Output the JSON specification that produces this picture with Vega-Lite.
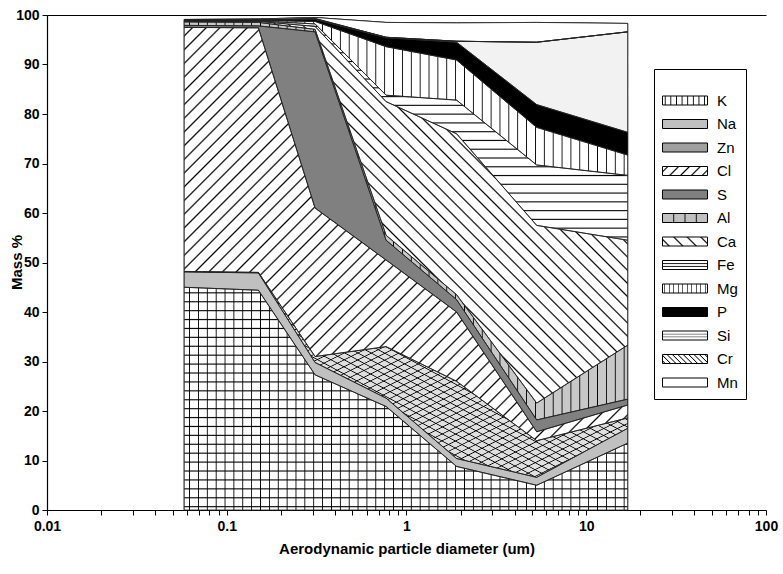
{
"$schema":"https://vega.github.io/schema/vega-lite/v6.json",
"width":719,"height":495,
"autosize":{"type":"none"},
"padding":{"left":47,"top":15,"right":17,"bottom":64},
"background":"#ffffff",
"config":{"view":{"stroke":null},"font":"Liberation Sans"},
"params":[
{"name":"lK","value":{"gradient":"linear","x1":0,"y1":0,"x2":1,"y2":0,"stops":[
 {"offset":0.04,"color":"#fff"},{"offset":0.06,"color":"#000"},{"offset":0.08,"color":"#fff"},
 {"offset":0.165,"color":"#fff"},{"offset":0.185,"color":"#000"},{"offset":0.205,"color":"#fff"},
 {"offset":0.29,"color":"#fff"},{"offset":0.31,"color":"#000"},{"offset":0.33,"color":"#fff"},
 {"offset":0.415,"color":"#fff"},{"offset":0.435,"color":"#000"},{"offset":0.455,"color":"#fff"},
 {"offset":0.54,"color":"#fff"},{"offset":0.56,"color":"#000"},{"offset":0.58,"color":"#fff"},
 {"offset":0.665,"color":"#fff"},{"offset":0.685,"color":"#000"},{"offset":0.705,"color":"#fff"},
 {"offset":0.79,"color":"#fff"},{"offset":0.81,"color":"#000"},{"offset":0.83,"color":"#fff"},
 {"offset":0.915,"color":"#fff"},{"offset":0.935,"color":"#000"},{"offset":0.955,"color":"#fff"}]}},
{"name":"lCl","value":{"gradient":"linear","x1":0,"y1":0,"x2":1.154,"y2":0.231,"stops":[
 {"offset":0.07,"color":"#fff"},{"offset":0.1,"color":"#000"},{"offset":0.13,"color":"#fff"},
 {"offset":0.27,"color":"#fff"},{"offset":0.3,"color":"#000"},{"offset":0.33,"color":"#fff"},
 {"offset":0.47,"color":"#fff"},{"offset":0.5,"color":"#000"},{"offset":0.53,"color":"#fff"},
 {"offset":0.67,"color":"#fff"},{"offset":0.7,"color":"#000"},{"offset":0.73,"color":"#fff"},
 {"offset":0.87,"color":"#fff"},{"offset":0.9,"color":"#000"},{"offset":0.93,"color":"#fff"}]}},
{"name":"lAl","value":{"gradient":"linear","x1":0,"y1":0,"x2":1,"y2":0,"stops":[
 {"offset":0.23,"color":"#c0c0c0"},{"offset":0.25,"color":"#000"},{"offset":0.27,"color":"#c0c0c0"},
 {"offset":0.48,"color":"#c0c0c0"},{"offset":0.5,"color":"#000"},{"offset":0.52,"color":"#c0c0c0"},
 {"offset":0.73,"color":"#c0c0c0"},{"offset":0.75,"color":"#000"},{"offset":0.77,"color":"#c0c0c0"}]}},
{"name":"lCa","value":{"gradient":"linear","x1":0,"y1":1,"x2":1.154,"y2":0.769,"stops":[
 {"offset":0.095,"color":"#fff"},{"offset":0.125,"color":"#000"},{"offset":0.155,"color":"#fff"},
 {"offset":0.345,"color":"#fff"},{"offset":0.375,"color":"#000"},{"offset":0.405,"color":"#fff"},
 {"offset":0.595,"color":"#fff"},{"offset":0.625,"color":"#000"},{"offset":0.655,"color":"#fff"},
 {"offset":0.845,"color":"#fff"},{"offset":0.875,"color":"#000"},{"offset":0.905,"color":"#fff"}]}},
{"name":"lFe","value":{"gradient":"linear","x1":0,"y1":0,"x2":0,"y2":1,"stops":[
 {"offset":0.25,"color":"#fff"},{"offset":0.35,"color":"#000"},{"offset":0.45,"color":"#fff"},
 {"offset":0.55,"color":"#fff"},{"offset":0.65,"color":"#000"},{"offset":0.75,"color":"#fff"}]}},
{"name":"lMg","value":{"gradient":"linear","x1":0,"y1":0,"x2":1,"y2":0,"stops":[
 {"offset":0.035,"color":"#fff"},{"offset":0.05,"color":"#000"},{"offset":0.065,"color":"#fff"},
 {"offset":0.135,"color":"#fff"},{"offset":0.15,"color":"#000"},{"offset":0.165,"color":"#fff"},
 {"offset":0.235,"color":"#fff"},{"offset":0.25,"color":"#000"},{"offset":0.265,"color":"#fff"},
 {"offset":0.335,"color":"#fff"},{"offset":0.35,"color":"#000"},{"offset":0.365,"color":"#fff"},
 {"offset":0.435,"color":"#fff"},{"offset":0.45,"color":"#000"},{"offset":0.465,"color":"#fff"},
 {"offset":0.535,"color":"#fff"},{"offset":0.55,"color":"#000"},{"offset":0.565,"color":"#fff"},
 {"offset":0.635,"color":"#fff"},{"offset":0.65,"color":"#000"},{"offset":0.665,"color":"#fff"},
 {"offset":0.735,"color":"#fff"},{"offset":0.75,"color":"#000"},{"offset":0.765,"color":"#fff"},
 {"offset":0.835,"color":"#fff"},{"offset":0.85,"color":"#000"},{"offset":0.865,"color":"#fff"},
 {"offset":0.935,"color":"#fff"},{"offset":0.95,"color":"#000"},{"offset":0.965,"color":"#fff"}]}},
{"name":"lSi","value":{"gradient":"linear","x1":0,"y1":0,"x2":0,"y2":1,"stops":[
 {"offset":0.25,"color":"#fff"},{"offset":0.35,"color":"#777"},{"offset":0.45,"color":"#fff"},
 {"offset":0.55,"color":"#fff"},{"offset":0.65,"color":"#777"},{"offset":0.75,"color":"#fff"}]}},
{"name":"lCr","value":{"gradient":"linear","x1":0,"y1":1,"x2":1.154,"y2":0.769,"stops":[
 {"offset":0.03,"color":"#fff"},{"offset":0.05,"color":"#000"},{"offset":0.07,"color":"#fff"},
 {"offset":0.13,"color":"#fff"},{"offset":0.15,"color":"#000"},{"offset":0.17,"color":"#fff"},
 {"offset":0.23,"color":"#fff"},{"offset":0.25,"color":"#000"},{"offset":0.27,"color":"#fff"},
 {"offset":0.33,"color":"#fff"},{"offset":0.35,"color":"#000"},{"offset":0.37,"color":"#fff"},
 {"offset":0.43,"color":"#fff"},{"offset":0.45,"color":"#000"},{"offset":0.47,"color":"#fff"},
 {"offset":0.53,"color":"#fff"},{"offset":0.55,"color":"#000"},{"offset":0.57,"color":"#fff"},
 {"offset":0.63,"color":"#fff"},{"offset":0.65,"color":"#000"},{"offset":0.67,"color":"#fff"},
 {"offset":0.73,"color":"#fff"},{"offset":0.75,"color":"#000"},{"offset":0.77,"color":"#fff"},
 {"offset":0.83,"color":"#fff"},{"offset":0.85,"color":"#000"},{"offset":0.87,"color":"#fff"},
 {"offset":0.93,"color":"#fff"},{"offset":0.95,"color":"#000"},{"offset":0.97,"color":"#fff"}]}},
{"name":"sd","value":[
{"offset":0.008,"color":"transparent"},{"offset":0.01,"color":"#000"},{"offset":0.012,"color":"transparent"},
{"offset":0.024,"color":"transparent"},{"offset":0.026,"color":"#000"},{"offset":0.028,"color":"transparent"},
{"offset":0.04,"color":"transparent"},{"offset":0.042,"color":"#000"},{"offset":0.044,"color":"transparent"},
{"offset":0.056,"color":"transparent"},{"offset":0.058,"color":"#000"},{"offset":0.06,"color":"transparent"},
{"offset":0.072,"color":"transparent"},{"offset":0.074,"color":"#000"},{"offset":0.076,"color":"transparent"},
{"offset":0.088,"color":"transparent"},{"offset":0.09,"color":"#000"},{"offset":0.092,"color":"transparent"},
{"offset":0.104,"color":"transparent"},{"offset":0.106,"color":"#000"},{"offset":0.108,"color":"transparent"},
{"offset":0.12,"color":"transparent"},{"offset":0.122,"color":"#000"},{"offset":0.124,"color":"transparent"},
{"offset":0.136,"color":"transparent"},{"offset":0.138,"color":"#000"},{"offset":0.14,"color":"transparent"},
{"offset":0.152,"color":"transparent"},{"offset":0.154,"color":"#000"},{"offset":0.156,"color":"transparent"},
{"offset":0.168,"color":"transparent"},{"offset":0.17,"color":"#000"},{"offset":0.172,"color":"transparent"},
{"offset":0.184,"color":"transparent"},{"offset":0.186,"color":"#000"},{"offset":0.188,"color":"transparent"},
{"offset":0.2,"color":"transparent"},{"offset":0.202,"color":"#000"},{"offset":0.204,"color":"transparent"},
{"offset":0.216,"color":"transparent"},{"offset":0.218,"color":"#000"},{"offset":0.22,"color":"transparent"},
{"offset":0.232,"color":"transparent"},{"offset":0.234,"color":"#000"},{"offset":0.236,"color":"transparent"},
{"offset":0.248,"color":"transparent"},{"offset":0.25,"color":"#000"},{"offset":0.252,"color":"transparent"},
{"offset":0.264,"color":"transparent"},{"offset":0.266,"color":"#000"},{"offset":0.268,"color":"transparent"},
{"offset":0.28,"color":"transparent"},{"offset":0.282,"color":"#000"},{"offset":0.284,"color":"transparent"},
{"offset":0.296,"color":"transparent"},{"offset":0.298,"color":"#000"},{"offset":0.3,"color":"transparent"},
{"offset":0.312,"color":"transparent"},{"offset":0.314,"color":"#000"},{"offset":0.316,"color":"transparent"},
{"offset":0.328,"color":"transparent"},{"offset":0.33,"color":"#000"},{"offset":0.332,"color":"transparent"},
{"offset":0.344,"color":"transparent"},{"offset":0.346,"color":"#000"},{"offset":0.348,"color":"transparent"},
{"offset":0.36,"color":"transparent"},{"offset":0.362,"color":"#000"},{"offset":0.364,"color":"transparent"},
{"offset":0.376,"color":"transparent"},{"offset":0.378,"color":"#000"},{"offset":0.38,"color":"transparent"},
{"offset":0.392,"color":"transparent"},{"offset":0.394,"color":"#000"},{"offset":0.396,"color":"transparent"},
{"offset":0.408,"color":"transparent"},{"offset":0.41,"color":"#000"},{"offset":0.412,"color":"transparent"},
{"offset":0.424,"color":"transparent"},{"offset":0.426,"color":"#000"},{"offset":0.428,"color":"transparent"},
{"offset":0.44,"color":"transparent"},{"offset":0.442,"color":"#000"},{"offset":0.444,"color":"transparent"},
{"offset":0.456,"color":"transparent"},{"offset":0.458,"color":"#000"},{"offset":0.46,"color":"transparent"},
{"offset":0.472,"color":"transparent"},{"offset":0.474,"color":"#000"},{"offset":0.476,"color":"transparent"},
{"offset":0.488,"color":"transparent"},{"offset":0.49,"color":"#000"},{"offset":0.492,"color":"transparent"},
{"offset":0.504,"color":"transparent"},{"offset":0.506,"color":"#000"},{"offset":0.508,"color":"transparent"},
{"offset":0.52,"color":"transparent"},{"offset":0.522,"color":"#000"},{"offset":0.524,"color":"transparent"},
{"offset":0.536,"color":"transparent"},{"offset":0.538,"color":"#000"},{"offset":0.54,"color":"transparent"},
{"offset":0.552,"color":"transparent"},{"offset":0.554,"color":"#000"},{"offset":0.556,"color":"transparent"},
{"offset":0.568,"color":"transparent"},{"offset":0.57,"color":"#000"},{"offset":0.572,"color":"transparent"},
{"offset":0.584,"color":"transparent"},{"offset":0.586,"color":"#000"},{"offset":0.588,"color":"transparent"},
{"offset":0.6,"color":"transparent"},{"offset":0.602,"color":"#000"},{"offset":0.604,"color":"transparent"},
{"offset":0.616,"color":"transparent"},{"offset":0.618,"color":"#000"},{"offset":0.62,"color":"transparent"},
{"offset":0.632,"color":"transparent"},{"offset":0.634,"color":"#000"},{"offset":0.636,"color":"transparent"},
{"offset":0.648,"color":"transparent"},{"offset":0.65,"color":"#000"},{"offset":0.652,"color":"transparent"},
{"offset":0.664,"color":"transparent"},{"offset":0.666,"color":"#000"},{"offset":0.668,"color":"transparent"},
{"offset":0.68,"color":"transparent"},{"offset":0.682,"color":"#000"},{"offset":0.684,"color":"transparent"},
{"offset":0.696,"color":"transparent"},{"offset":0.698,"color":"#000"},{"offset":0.7,"color":"transparent"},
{"offset":0.712,"color":"transparent"},{"offset":0.714,"color":"#000"},{"offset":0.716,"color":"transparent"},
{"offset":0.728,"color":"transparent"},{"offset":0.73,"color":"#000"},{"offset":0.732,"color":"transparent"},
{"offset":0.744,"color":"transparent"},{"offset":0.746,"color":"#000"},{"offset":0.748,"color":"transparent"},
{"offset":0.76,"color":"transparent"},{"offset":0.762,"color":"#000"},{"offset":0.764,"color":"transparent"},
{"offset":0.776,"color":"transparent"},{"offset":0.778,"color":"#000"},{"offset":0.78,"color":"transparent"},
{"offset":0.792,"color":"transparent"},{"offset":0.794,"color":"#000"},{"offset":0.796,"color":"transparent"},
{"offset":0.808,"color":"transparent"},{"offset":0.81,"color":"#000"},{"offset":0.812,"color":"transparent"},
{"offset":0.824,"color":"transparent"},{"offset":0.826,"color":"#000"},{"offset":0.828,"color":"transparent"},
{"offset":0.84,"color":"transparent"},{"offset":0.842,"color":"#000"},{"offset":0.844,"color":"transparent"},
{"offset":0.856,"color":"transparent"},{"offset":0.858,"color":"#000"},{"offset":0.86,"color":"transparent"},
{"offset":0.872,"color":"transparent"},{"offset":0.874,"color":"#000"},{"offset":0.876,"color":"transparent"},
{"offset":0.888,"color":"transparent"},{"offset":0.89,"color":"#000"},{"offset":0.892,"color":"transparent"},
{"offset":0.904,"color":"transparent"},{"offset":0.906,"color":"#000"},{"offset":0.908,"color":"transparent"},
{"offset":0.92,"color":"transparent"},{"offset":0.922,"color":"#000"},{"offset":0.924,"color":"transparent"},
{"offset":0.936,"color":"transparent"},{"offset":0.938,"color":"#000"},{"offset":0.94,"color":"transparent"},
{"offset":0.952,"color":"transparent"},{"offset":0.954,"color":"#000"},{"offset":0.956,"color":"transparent"},
{"offset":0.968,"color":"transparent"},{"offset":0.97,"color":"#000"},{"offset":0.972,"color":"transparent"},
{"offset":0.984,"color":"transparent"},{"offset":0.986,"color":"#000"},{"offset":0.988,"color":"transparent"}
]}],
"data":{"values":[
{"x":0.058,"K":45.0,"Na":3.1,"Zn":0.1,"Cl":49.3,"S":0.4,"Al":0.7,"Ca":0.1,"Fe":0.1,"Mg":0.1,"P":0.1,"Si":0,"Cr":0,"Mn":0.1},
{"x":0.15,"K":44.4,"Na":3.5,"Zn":0.1,"Cl":49.4,"S":0.4,"Al":0.7,"Ca":0.2,"Fe":0.1,"Mg":0.1,"P":0.1,"Si":0,"Cr":0,"Mn":0.2},
{"x":0.31,"K":27.3,"Na":2.5,"Zn":1.2,"Cl":30.0,"S":35.6,"Al":0.5,"Ca":0.6,"Fe":0.5,"Mg":0.5,"P":0.4,"Si":0.1,"Cr":0.1,"Mn":0.2},
{"x":0.77,"K":20.9,"Na":1.7,"Zn":10.4,"Cl":17.5,"S":4.0,"Al":1.0,"Ca":27.0,"Fe":1.3,"Mg":9.8,"P":1.8,"Si":0.1,"Cr":0,"Mn":3.0},
{"x":1.9,"K":8.8,"Na":1.6,"Zn":15.6,"Cl":14.0,"S":2.5,"Al":1.0,"Ca":32.5,"Fe":6.8,"Mg":8.1,"P":3.6,"Si":0.2,"Cr":0,"Mn":3.7},
{"x":5.3,"K":5.0,"Na":1.6,"Zn":7.4,"Cl":1.8,"S":2.4,"Al":3.4,"Ca":35.9,"Fe":12.2,"Mg":7.6,"P":4.6,"Si":12.6,"Cr":0,"Mn":4.0},
{"x":17,"K":13.5,"Na":3.0,"Zn":2.1,"Cl":2.6,"S":1.2,"Al":10.9,"Ca":21.2,"Fe":13.1,"Mg":4.1,"P":4.6,"Si":20.3,"Cr":0,"Mn":1.7}
]},
"transform":[
{"fold":["K","Na","Zn","Cl","S","Al","Ca","Fe","Mg","P","Si","Cr","Mn"],"as":["element","v"]},
{"calculate":"indexof(['K','Na','Zn','Cl','S','Al','Ca','Fe','Mg','P','Si','Cr','Mn'],datum.element)","as":"ord"},
{"stack":"v","groupby":["x"],"sort":[{"field":"ord","order":"ascending"}],"as":["y0","y1"]}
],
"encoding":{
"x":{"field":"x","type":"quantitative","scale":{"type":"log","domain":[0.01,100],"nice":false},
 "axis":{"title":"Aerodynamic particle diameter (um)","values":[0.01,0.02,0.03,0.04,0.05,0.06,0.07,0.08,0.09,0.1,0.2,0.3,0.4,0.5,0.6,0.7,0.8,0.9,1,2,3,4,5,6,7,8,9,10,20,30,40,50,60,70,80,90,100],
 "labelExpr":"datum.value===0.01?'0.01':datum.value===0.1?'0.1':datum.value===1?'1':datum.value===10?'10':datum.value===100?'100':''",
 "labelOverlap":false,"labelFlush":false,"labelBound":false,"grid":false,"tickSize":5,"tickColor":"#000","domainColor":"#000","domainWidth":1.2,
 "labelFont":"Liberation Sans","labelFontSize":14,"labelFontWeight":"bold","labelColor":"#000","labelPadding":4,
 "titleFont":"Liberation Sans","titleFontSize":15,"titleFontWeight":"bold","titleColor":"#000","titlePadding":8}},
"y":{"field":"y1","type":"quantitative","scale":{"domain":[0,100],"nice":false},
 "axis":{"title":"Mass %","values":[0,10,20,30,40,50,60,70,80,90,100],"tickSize":5,"tickColor":"#000","domainColor":"#000","domainWidth":1.2,
 "grid":true,"gridColor":"#000","gridWidth":1.2,"gridOpacity":{"condition":{"test":"datum.value===100","value":1},"value":0},
 "labelFont":"Liberation Sans","labelFontSize":14,"labelFontWeight":"bold","labelColor":"#000","labelPadding":3,
 "titleFont":"Liberation Sans","titleFontSize":15,"titleFontWeight":"bold","titleColor":"#000","titleX":-23,"titleY":247}},
"y2":{"field":"y0"}
},
"layer":[
{"mark":{"type":"area","stroke":"#000","strokeWidth":1},
 "encoding":{"color":{"field":"element","type":"nominal",
  "scale":{"domain":["K","Na","Zn","Cl","S","Al","Ca","Fe","Mg","P","Si","Cr","Mn"],
   "range":[{"expr":"lK"},"#c0c0c0","#a0a0a0",{"expr":"lCl"},"#808080",{"expr":"lAl"},{"expr":"lCa"},{"expr":"lFe"},{"expr":"lMg"},"#000000",{"expr":"lSi"},{"expr":"lCr"},"#ffffff"]},
  "legend":{"orient":"none","legendX":607,"legendY":54,"direction":"vertical","title":" ","titleFontSize":8,"titlePadding":6,
   "padding":8,"strokeColor":"#000","fillColor":"#fff","cornerRadius":0,
   "symbolType":"M-1,-0.5H4V0.5H-1Z","symbolSize":324,"symbolStrokeColor":"#000","symbolStrokeWidth":1,"symbolOpacity":1,
   "labelFont":"Liberation Sans","labelFontSize":15,"labelColor":"#000","labelOffset":36,"rowPadding":5.5,"labelLimit":200}}}},
{"mark":{"type":"area","strokeWidth":0},
 "encoding":{"fill":{"field":"element","type":"nominal","legend":null,
  "scale":{"domain":["K","Na","Zn","Cl","S","Al","Ca","Fe","Mg","P","Si","Cr","Mn"],
   "range":["#ffffff","#c0c0c0","#e0e0e0","#ffffff","#808080","#c8c8c8","#ffffff","#ffffff","#ffffff","#000000","#f2f2f2","#ffffff","#ffffff"]}}}},
{"transform":[{"filter":{"field":"element","oneOf":["K","Mg","Al"]}}],
 "mark":{"type":"area","fill":{"gradient":"linear","x1":0,"y1":0,"x2":1,"y2":0,"stops":[
{"offset":0.01,"color":"transparent"},{"offset":0.012,"color":"#000"},{"offset":0.014,"color":"transparent"},
{"offset":0.03,"color":"transparent"},{"offset":0.032,"color":"#000"},{"offset":0.034,"color":"transparent"},
{"offset":0.05,"color":"transparent"},{"offset":0.052,"color":"#000"},{"offset":0.054,"color":"transparent"},
{"offset":0.07,"color":"transparent"},{"offset":0.072,"color":"#000"},{"offset":0.074,"color":"transparent"},
{"offset":0.09,"color":"transparent"},{"offset":0.092,"color":"#000"},{"offset":0.094,"color":"transparent"},
{"offset":0.11,"color":"transparent"},{"offset":0.112,"color":"#000"},{"offset":0.114,"color":"transparent"},
{"offset":0.13,"color":"transparent"},{"offset":0.132,"color":"#000"},{"offset":0.134,"color":"transparent"},
{"offset":0.15,"color":"transparent"},{"offset":0.152,"color":"#000"},{"offset":0.154,"color":"transparent"},
{"offset":0.17,"color":"transparent"},{"offset":0.172,"color":"#000"},{"offset":0.174,"color":"transparent"},
{"offset":0.19,"color":"transparent"},{"offset":0.192,"color":"#000"},{"offset":0.194,"color":"transparent"},
{"offset":0.21,"color":"transparent"},{"offset":0.212,"color":"#000"},{"offset":0.214,"color":"transparent"},
{"offset":0.23,"color":"transparent"},{"offset":0.232,"color":"#000"},{"offset":0.234,"color":"transparent"},
{"offset":0.25,"color":"transparent"},{"offset":0.252,"color":"#000"},{"offset":0.254,"color":"transparent"},
{"offset":0.27,"color":"transparent"},{"offset":0.272,"color":"#000"},{"offset":0.274,"color":"transparent"},
{"offset":0.29,"color":"transparent"},{"offset":0.292,"color":"#000"},{"offset":0.294,"color":"transparent"},
{"offset":0.31,"color":"transparent"},{"offset":0.312,"color":"#000"},{"offset":0.314,"color":"transparent"},
{"offset":0.33,"color":"transparent"},{"offset":0.332,"color":"#000"},{"offset":0.334,"color":"transparent"},
{"offset":0.35,"color":"transparent"},{"offset":0.352,"color":"#000"},{"offset":0.354,"color":"transparent"},
{"offset":0.37,"color":"transparent"},{"offset":0.372,"color":"#000"},{"offset":0.374,"color":"transparent"},
{"offset":0.39,"color":"transparent"},{"offset":0.392,"color":"#000"},{"offset":0.394,"color":"transparent"},
{"offset":0.41,"color":"transparent"},{"offset":0.412,"color":"#000"},{"offset":0.414,"color":"transparent"},
{"offset":0.43,"color":"transparent"},{"offset":0.432,"color":"#000"},{"offset":0.434,"color":"transparent"},
{"offset":0.45,"color":"transparent"},{"offset":0.452,"color":"#000"},{"offset":0.454,"color":"transparent"},
{"offset":0.47,"color":"transparent"},{"offset":0.472,"color":"#000"},{"offset":0.474,"color":"transparent"},
{"offset":0.49,"color":"transparent"},{"offset":0.492,"color":"#000"},{"offset":0.494,"color":"transparent"},
{"offset":0.51,"color":"transparent"},{"offset":0.512,"color":"#000"},{"offset":0.514,"color":"transparent"},
{"offset":0.53,"color":"transparent"},{"offset":0.532,"color":"#000"},{"offset":0.534,"color":"transparent"},
{"offset":0.55,"color":"transparent"},{"offset":0.552,"color":"#000"},{"offset":0.554,"color":"transparent"},
{"offset":0.57,"color":"transparent"},{"offset":0.572,"color":"#000"},{"offset":0.574,"color":"transparent"},
{"offset":0.59,"color":"transparent"},{"offset":0.592,"color":"#000"},{"offset":0.594,"color":"transparent"},
{"offset":0.61,"color":"transparent"},{"offset":0.612,"color":"#000"},{"offset":0.614,"color":"transparent"},
{"offset":0.63,"color":"transparent"},{"offset":0.632,"color":"#000"},{"offset":0.634,"color":"transparent"},
{"offset":0.65,"color":"transparent"},{"offset":0.652,"color":"#000"},{"offset":0.654,"color":"transparent"},
{"offset":0.67,"color":"transparent"},{"offset":0.672,"color":"#000"},{"offset":0.674,"color":"transparent"},
{"offset":0.69,"color":"transparent"},{"offset":0.692,"color":"#000"},{"offset":0.694,"color":"transparent"},
{"offset":0.71,"color":"transparent"},{"offset":0.712,"color":"#000"},{"offset":0.714,"color":"transparent"},
{"offset":0.73,"color":"transparent"},{"offset":0.732,"color":"#000"},{"offset":0.734,"color":"transparent"},
{"offset":0.75,"color":"transparent"},{"offset":0.752,"color":"#000"},{"offset":0.754,"color":"transparent"},
{"offset":0.77,"color":"transparent"},{"offset":0.772,"color":"#000"},{"offset":0.774,"color":"transparent"},
{"offset":0.79,"color":"transparent"},{"offset":0.792,"color":"#000"},{"offset":0.794,"color":"transparent"},
{"offset":0.81,"color":"transparent"},{"offset":0.812,"color":"#000"},{"offset":0.814,"color":"transparent"},
{"offset":0.83,"color":"transparent"},{"offset":0.832,"color":"#000"},{"offset":0.834,"color":"transparent"},
{"offset":0.85,"color":"transparent"},{"offset":0.852,"color":"#000"},{"offset":0.854,"color":"transparent"},
{"offset":0.87,"color":"transparent"},{"offset":0.872,"color":"#000"},{"offset":0.874,"color":"transparent"},
{"offset":0.89,"color":"transparent"},{"offset":0.892,"color":"#000"},{"offset":0.894,"color":"transparent"},
{"offset":0.91,"color":"transparent"},{"offset":0.912,"color":"#000"},{"offset":0.914,"color":"transparent"},
{"offset":0.93,"color":"transparent"},{"offset":0.932,"color":"#000"},{"offset":0.934,"color":"transparent"},
{"offset":0.95,"color":"transparent"},{"offset":0.952,"color":"#000"},{"offset":0.954,"color":"transparent"},
{"offset":0.97,"color":"transparent"},{"offset":0.972,"color":"#000"},{"offset":0.974,"color":"transparent"},
{"offset":0.99,"color":"transparent"},{"offset":0.992,"color":"#000"},{"offset":0.994,"color":"transparent"}
 ]}},
 "encoding":{"detail":{"field":"element","type":"nominal"}}},
{"transform":[{"filter":{"field":"element","oneOf":["K","Fe"]}}],
 "mark":{"type":"area","fill":{"gradient":"linear","x1":0,"y1":0,"x2":0,"y2":1,"stops":[
{"offset":0.02,"color":"transparent"},{"offset":0.025,"color":"#000"},{"offset":0.03,"color":"transparent"},
{"offset":0.06,"color":"transparent"},{"offset":0.065,"color":"#000"},{"offset":0.07,"color":"transparent"},
{"offset":0.1,"color":"transparent"},{"offset":0.105,"color":"#000"},{"offset":0.11,"color":"transparent"},
{"offset":0.14,"color":"transparent"},{"offset":0.145,"color":"#000"},{"offset":0.15,"color":"transparent"},
{"offset":0.18,"color":"transparent"},{"offset":0.185,"color":"#000"},{"offset":0.19,"color":"transparent"},
{"offset":0.22,"color":"transparent"},{"offset":0.225,"color":"#000"},{"offset":0.23,"color":"transparent"},
{"offset":0.26,"color":"transparent"},{"offset":0.265,"color":"#000"},{"offset":0.27,"color":"transparent"},
{"offset":0.3,"color":"transparent"},{"offset":0.305,"color":"#000"},{"offset":0.31,"color":"transparent"},
{"offset":0.34,"color":"transparent"},{"offset":0.345,"color":"#000"},{"offset":0.35,"color":"transparent"},
{"offset":0.38,"color":"transparent"},{"offset":0.385,"color":"#000"},{"offset":0.39,"color":"transparent"},
{"offset":0.42,"color":"transparent"},{"offset":0.425,"color":"#000"},{"offset":0.43,"color":"transparent"},
{"offset":0.46,"color":"transparent"},{"offset":0.465,"color":"#000"},{"offset":0.47,"color":"transparent"},
{"offset":0.5,"color":"transparent"},{"offset":0.505,"color":"#000"},{"offset":0.51,"color":"transparent"},
{"offset":0.54,"color":"transparent"},{"offset":0.545,"color":"#000"},{"offset":0.55,"color":"transparent"},
{"offset":0.58,"color":"transparent"},{"offset":0.585,"color":"#000"},{"offset":0.59,"color":"transparent"},
{"offset":0.62,"color":"transparent"},{"offset":0.625,"color":"#000"},{"offset":0.63,"color":"transparent"},
{"offset":0.66,"color":"transparent"},{"offset":0.665,"color":"#000"},{"offset":0.67,"color":"transparent"},
{"offset":0.7,"color":"transparent"},{"offset":0.705,"color":"#000"},{"offset":0.71,"color":"transparent"},
{"offset":0.74,"color":"transparent"},{"offset":0.745,"color":"#000"},{"offset":0.75,"color":"transparent"},
{"offset":0.78,"color":"transparent"},{"offset":0.785,"color":"#000"},{"offset":0.79,"color":"transparent"},
{"offset":0.82,"color":"transparent"},{"offset":0.825,"color":"#000"},{"offset":0.83,"color":"transparent"},
{"offset":0.86,"color":"transparent"},{"offset":0.865,"color":"#000"},{"offset":0.87,"color":"transparent"},
{"offset":0.9,"color":"transparent"},{"offset":0.905,"color":"#000"},{"offset":0.91,"color":"transparent"},
{"offset":0.94,"color":"transparent"},{"offset":0.945,"color":"#000"},{"offset":0.95,"color":"transparent"},
{"offset":0.98,"color":"transparent"},{"offset":0.985,"color":"#000"},{"offset":0.99,"color":"transparent"}
 ]}},
 "encoding":{"detail":{"field":"element","type":"nominal"}}},
{"transform":[{"filter":{"field":"element","oneOf":["Zn","Cl"]}}],
 "mark":{"type":"area","fill":{"expr":"{gradient:'linear',x1:0,y1:0,x2:1.034,y2:0.963,stops:sd}"}},
 "encoding":{"detail":{"field":"element","type":"nominal"}}},
{"transform":[{"filter":{"field":"element","oneOf":["Zn","Ca","Cr"]}}],
 "mark":{"type":"area","fill":{"expr":"{gradient:'linear',x1:0,y1:1,x2:1.068,y2:0.079,stops:sd}"}},
 "encoding":{"detail":{"field":"element","type":"nominal"}}},
{"mark":{"type":"area","fillOpacity":0,"stroke":"#222","strokeWidth":0.8},
 "encoding":{"detail":{"field":"element","type":"nominal"}}}
]
}
